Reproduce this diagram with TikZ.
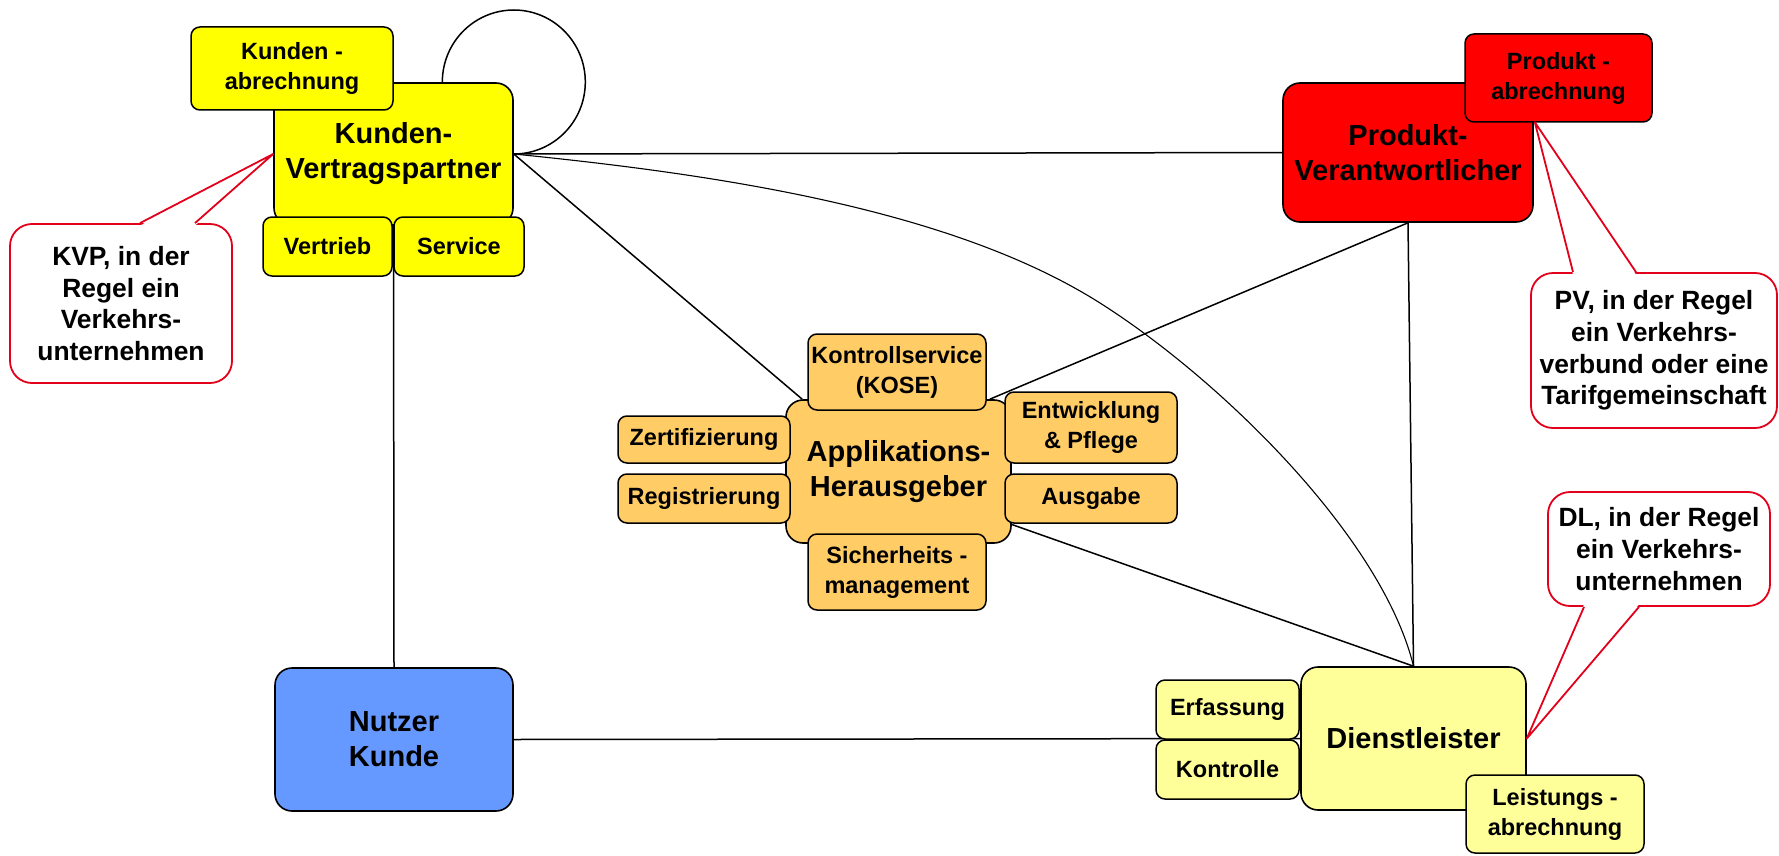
\documentclass[tikz,border=0pt]{standalone}
\usepackage{fontspec}
\setmainfont{Liberation Sans}
\usetikzlibrary{calc}
\pgfdeclarelayer{bg}
\pgfsetlayers{bg,main}
\definecolor{kvpyellow}{HTML}{FFFF00}
\definecolor{pvred}{HTML}{FF0000}
\definecolor{ahorange}{HTML}{FFCC66}
\definecolor{nutzerblue}{HTML}{6699FF}
\definecolor{dlyellow}{HTML}{FFFF99}
\definecolor{cred}{HTML}{E3001B}
\begin{document}
\begin{tikzpicture}[x=1pt,y=-1pt,
  box/.style={draw=black, line width=1.6pt, rounded corners=17pt, align=center, inner sep=0pt, font=\fontsize{29}{35}\selectfont\bfseries},
  sub/.style={draw=black, line width=1.5pt, rounded corners=9pt, align=center, inner sep=0pt, font=\fontsize{23.5}{30}\selectfont\bfseries},
  callout/.style={draw=cred, fill=white, line width=1.8pt, rounded corners=22pt, align=center, inner sep=0pt, font=\fontsize{26.4}{31.7}\selectfont\bfseries},
  conn/.style={draw=black, line width=1.5pt},
  ptr/.style={draw=cred, line width=1.8pt, line join=round},
]
\useasboundingbox (0,0) rectangle (1779,856);

% main boxes
\node[box, fill=kvpyellow, minimum width=239pt, minimum height=142pt] (kvp) at (393.5,154) {Kunden-\\Vertragspartner};
\node[box, fill=pvred, minimum width=250pt, minimum height=139pt] (pv) at (1408,152.5) {Produkt-\\Verantwortlicher};
\node[box, fill=ahorange, minimum width=225pt, minimum height=143pt] (ah) at (898.5,471.5) {Applikations-\\Herausgeber};
\node[box, fill=nutzerblue, minimum width=238pt, minimum height=143pt] (nutzer) at (394,739.5) {Nutzer\\Kunde};
\node[box, fill=dlyellow, minimum width=225pt, minimum height=143pt] (dl) at (1413.5,738.5) {Dienstleister};

% sub boxes
\node[sub, fill=kvpyellow, minimum width=202pt, minimum height=83pt] (kab) at (292,68.5) {Kunden -\\abrechnung};
\node[sub, fill=kvpyellow, minimum width=129pt, minimum height=59pt] (vertrieb) at (327.5,246.5) {Vertrieb};
\node[sub, fill=kvpyellow, minimum width=130pt, minimum height=59pt] (service) at (459,246.5) {Service};
\node[sub, fill=pvred, minimum width=187pt, minimum height=88pt] (pab) at (1558.5,78) {Produkt -\\abrechnung};
\node[sub, fill=ahorange, minimum width=178pt, minimum height=76pt] (kose) at (897,372) {Kontrollservice\\(KOSE)};
\node[sub, fill=ahorange, minimum width=172pt, minimum height=71pt] (entw) at (1091,427.5) {Entwicklung\\\& Pflege};
\node[sub, fill=ahorange, minimum width=172pt, minimum height=49pt] (ausgabe) at (1091,498.5) {Ausgabe};
\node[sub, fill=ahorange, minimum width=172pt, minimum height=47pt] (zert) at (704,439.5) {Zertifizierung};
\node[sub, fill=ahorange, minimum width=172pt, minimum height=49pt] (reg) at (704,498.5) {Registrierung};
\node[sub, fill=ahorange, minimum width=178pt, minimum height=76pt] (sich) at (897,572) {Sicherheits -\\management};
\node[sub, fill=dlyellow, minimum width=143pt, minimum height=59pt] (erf) at (1227.5,709.5) {Erfassung};
\node[sub, fill=dlyellow, minimum width=143pt, minimum height=59pt] (kontr) at (1227.5,769.5) {Kontrolle};
\node[sub, fill=dlyellow, minimum width=178pt, minimum height=78pt] (lab) at (1555,814) {Leistungs -\\abrechnung};

% connectors
\coordinate (cmid) at (1100,303);
\begin{pgfonlayer}{bg}
\draw[conn] (kvp.east) arc[start angle=90, end angle=-183, x radius=71.5, y radius=72];
\draw[conn] (kvp.east) -- (pv.west);
\draw[conn] (kvp.east) -- ($(ah.north west)+(17,0)$);
\draw[conn] (pv.south) -- ($(ah.north east)+(-22,0)$);
\draw[conn] ($(ah.east)+(0,53)$) -- (dl.north);
\draw[conn] (pv.south) -- (dl.north);
\draw[conn] (kvp.south) -- (nutzer.north);
\draw[conn] (nutzer.east) -- (dl.west);
\draw[draw=black, line width=1.1pt] (kvp.east) .. controls (713,174) and (950,208) .. (cmid) .. controls (1220,379) and (1382,537) .. (dl.north);
\end{pgfonlayer}

% callouts
\node[callout, minimum width=222pt, minimum height=159pt] (kvpc) at (121,303.5) {KVP, in der\\Regel ein\\Verkehrs-\\unternehmen};
\fill[white] ($(kvpc.north)+(19,2.5)$) -- (kvp.west) -- ($(kvpc.north)+(74,2.5)$) -- cycle;
\draw[ptr] ($(kvpc.north)+(19,0)$) -- (kvp.west) -- ($(kvpc.north)+(74,0)$);

\node[callout, minimum width=246pt, minimum height=155pt] (pvc) at (1654,350.5) {PV, in der Regel\\ein Verkehrs-\\verbund oder eine\\Tarifgemeinschaft};
\coordinate (pvtip) at ($(pv.north east)+(1,40)$);
\fill[white] ($(pvc.north)+(-81,2.5)$) -- (pvtip) -- ($(pvc.north)+(-18,2.5)$) -- cycle;
\draw[ptr] ($(pvc.north)+(-81,0)$) -- (pvtip) -- ($(pvc.north)+(-18,0)$);

\node[callout, minimum width=222pt, minimum height=114pt] (dlc) at (1659,549) {DL, in der Regel\\ein Verkehrs-\\unternehmen};
\fill[white] ($(dlc.south)+(-75,-2.5)$) -- (dl.east) -- ($(dlc.south)+(-20,-2.5)$) -- cycle;
\draw[ptr] ($(dlc.south)+(-75,0)$) -- (dl.east) -- ($(dlc.south)+(-20,0)$);
\end{tikzpicture}
\end{document}
